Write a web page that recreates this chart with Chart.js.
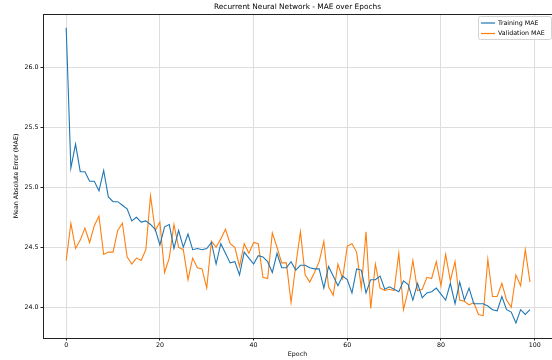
<!DOCTYPE html>
<html>
<head>
<meta charset="utf-8">
<script src="https://cdn.jsdelivr.net/npm/chart.js@4.4.1/dist/chart.umd.min.js"></script>
<style>
  html, body { margin: 0; padding: 0; background: #fff; }
  #wrap { width: 552px; height: 360px; }
</style>
</head>
<body>
<div id="wrap"><canvas id="maeChart" width="552" height="360"></canvas></div>
<script>
// values
const trainingMae = [
  26.33, 25.16, 25.36, 25.13, 25.13, 25.05, 25.05, 24.97, 25.14, 24.92,
  24.88, 24.88, 24.85, 24.82, 24.72, 24.75, 24.71, 24.72, 24.69, 24.65,
  24.52, 24.67, 24.69, 24.49, 24.64, 24.50, 24.61, 24.48, 24.49, 24.48,
  24.49, 24.54, 24.36, 24.53, 24.45, 24.37, 24.38, 24.27, 24.46, 24.41,
  24.36, 24.43, 24.42, 24.38, 24.29, 24.45, 24.33, 24.33, 24.38, 24.31,
  24.35, 24.35, 24.33, 24.32, 24.32, 24.16, 24.34, 24.26, 24.18, 24.26,
  24.23, 24.12, 24.32, 24.31, 24.12, 24.23, 24.23, 24.26, 24.15, 24.17,
  24.15, 24.13, 24.22, 24.19, 24.06, 24.20, 24.08, 24.12, 24.13, 24.16,
  24.11, 24.06, 24.20, 24.03, 24.21, 24.06, 24.16, 24.03, 24.03, 24.03,
  24.01, 23.98, 23.97, 24.09, 23.98, 23.96, 23.87, 23.98, 23.94, 23.98
];
const validationMae = [
  24.39, 24.70, 24.49, 24.56, 24.66, 24.54, 24.68, 24.76, 24.44, 24.46,
  24.46, 24.64, 24.70, 24.42, 24.36, 24.41, 24.39, 24.48, 24.93, 24.64,
  24.71, 24.29, 24.41, 24.69, 24.50, 24.48, 24.23, 24.41, 24.33, 24.32,
  24.16, 24.55, 24.50, 24.57, 24.65, 24.53, 24.50, 24.34, 24.53, 24.45,
  24.54, 24.53, 24.25, 24.24, 24.62, 24.50, 24.37, 24.37, 24.04, 24.35,
  24.63, 24.27, 24.21, 24.29, 24.38, 24.55, 24.17, 24.10, 24.36, 24.24,
  24.51, 24.53, 24.46, 24.16, 24.63, 23.99, 24.36, 24.16, 24.14, 24.15,
  24.14, 24.45, 23.98, 24.14, 24.39, 24.14, 24.15, 24.25, 24.24, 24.38,
  24.18, 24.44, 24.22, 24.38, 24.06, 24.05, 24.02, 24.04, 23.94, 23.93,
  24.40, 24.09, 24.09, 24.20, 24.06, 24.00, 24.27, 24.18, 24.48, 24.21
];
const epochs = trainingMae.map((_, i) => i);
const xTicks = [0, 20, 40, 60, 80, 100];
const yTicks = [24.0, 24.5, 25.0, 25.5, 26.0];

const FONT = "'DejaVu Sans', sans-serif";
const gridColor = "#dedede";

// top/right frame, title and legend drawn like matplotlib does it
const extras = {
  id: "extras",
  afterDraw(chart) {
    const { ctx, chartArea: a } = chart;
    ctx.save();
    ctx.strokeStyle = "#222";
    ctx.lineWidth = 1;
    ctx.beginPath();
    ctx.moveTo(a.left, a.top + 0.5);
    ctx.lineTo(a.right, a.top + 0.5);
    ctx.stroke();

    ctx.fillStyle = "#000";
    ctx.font = "7.4px " + FONT;
    ctx.textAlign = "center";
    ctx.textBaseline = "middle";
    ctx.fillText("Recurrent Neural Network - MAE over Epochs", (a.left + a.right) / 2, 7);

    // legend
    const bx = 478, by = 16, bw = 73, bh = 23;
    ctx.fillStyle = "rgba(255,255,255,0.85)";
    ctx.strokeStyle = "#d4d4d4";
    ctx.beginPath();
    ctx.roundRect(bx + 0.5, by + 0.5, bw, bh, 2);
    ctx.fill();
    ctx.stroke();
    ctx.font = "6.3px " + FONT;
    ctx.textAlign = "left";
    chart.data.datasets.forEach((ds, i) => {
      const yy = by + 7 + i * 10.5;
      ctx.strokeStyle = ds.borderColor;
      ctx.lineWidth = 1.2;
      ctx.beginPath();
      ctx.moveTo(481, yy);
      ctx.lineTo(495, yy);
      ctx.stroke();
      ctx.fillStyle = "#000";
      ctx.fillText(ds.label, 498, yy);
    });
    ctx.restore();
  }
};

new Chart(document.getElementById("maeChart"), {
  type: "line",
  data: {
    datasets: [
      {
        label: "Training MAE",
        data: epochs.map((e, i) => ({ x: e, y: trainingMae[i] })),
        borderColor: "#1f77b4",
        borderWidth: 1.1,
        pointRadius: 0,
        tension: 0,
      },
      {
        label: "Validation MAE",
        data: epochs.map((e, i) => ({ x: e, y: validationMae[i] })),
        borderColor: "#ff7f0e",
        borderWidth: 1.1,
        pointRadius: 0,
        tension: 0,
      },
    ],
  },
  options: {
    responsive: false,
    animation: false,
    layout: { padding: { top: 14, left: 0, right: 0, bottom: 0 } },
    plugins: {
      legend: { display: false },
      tooltip: { enabled: false },
    },
    scales: {
      x: {
        type: "linear",
        min: -4.95,
        max: 103.7,
        afterBuildTicks: (s) => { s.ticks = xTicks.map((v) => ({ value: v })); },
        afterFit: (s) => { s.height = 22; },
        grid: { color: gridColor, lineWidth: 1, tickLength: 2.5, tickColor: "#222" },
        border: { display: true, color: "#222", width: 1 },
        ticks: {
          color: "#000",
          font: { family: FONT, size: 6.3 },
          padding: 1.5,
          maxRotation: 0,
          callback: (v) => String(v),
        },
        title: {
          display: true,
          text: "Epoch",
          color: "#000",
          font: { family: FONT, size: 6.3 },
          padding: { top: 0, bottom: 2 },
        },
      },
      y: {
        min: 23.744,
        max: 26.444,
        afterBuildTicks: (s) => { s.ticks = yTicks.map((v) => ({ value: v })); },
        afterFit: (s) => { s.width = 43; },
        grid: { color: gridColor, lineWidth: 1, tickLength: 2.5, tickColor: "#222" },
        border: { display: true, color: "#222", width: 1 },
        ticks: {
          color: "#000",
          font: { family: FONT, size: 6.3 },
          padding: 2,
          callback: (v) => Number(v).toFixed(1),
        },
        title: {
          display: true,
          text: "Mean Absolute Error (MAE)",
          color: "#000",
          font: { family: FONT, size: 6.3 },
          padding: { top: 13, bottom: 0 },
        },
      },
    },
  },
  plugins: [extras],
});
</script>
</body>
</html>
